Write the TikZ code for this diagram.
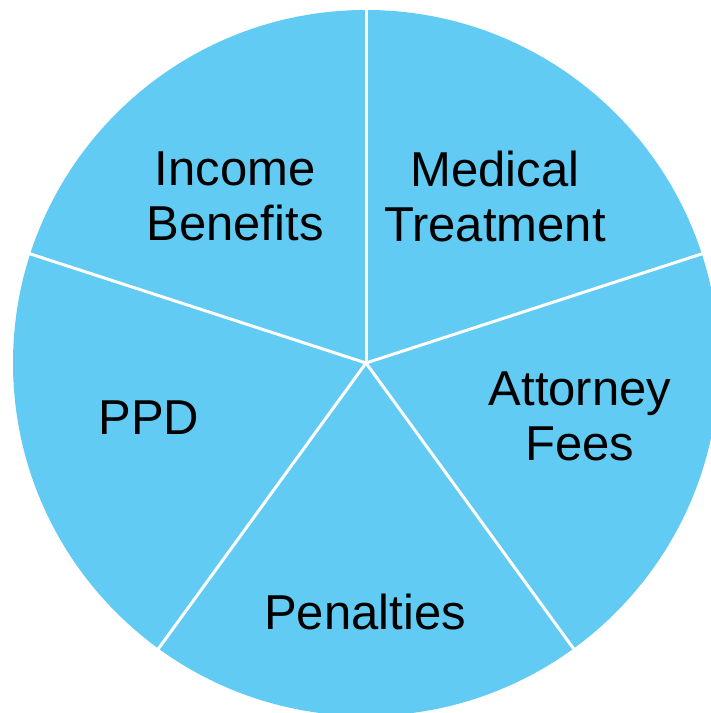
\documentclass[tikz,border=0pt]{standalone}
\usepackage{fontspec}
\setmainfont{Liberation Sans}
\usetikzlibrary{calc}
\definecolor{pieblue}{HTML}{61CBF3}
\begin{document}
\begin{tikzpicture}[x=1pt,y=1pt,
  divider/.style={draw=white,line width=3pt},
  lbl/.style={align=center,font=\fontsize{49}{55}\selectfont,text=black,inner sep=0pt}]
\useasboundingbox (0,0) rectangle (711,713);
\clip (0,0) rectangle (711,713);
\coordinate (c) at (366,350);
\fill[pieblue] (c) circle (353);
\foreach \a/\n in {90/a,18/b,-54/cc,-126/d,162/e}{
  \coordinate (\n) at ($(c)+(\a:360)$);
  \draw[divider] (c) -- (\n);
}
\node[lbl] (inc) at (235,517) {Income\\Benefits};
\node[lbl] (med) at (495,517) {Medical\\Treatment};
\node[lbl] (att) at (580,297) {Attorney\\Fees};
\node[lbl] (ppd) at (149,295) {PPD};
\node[lbl] (pen) at (365,101) {Penalties};
\end{tikzpicture}
\end{document}
